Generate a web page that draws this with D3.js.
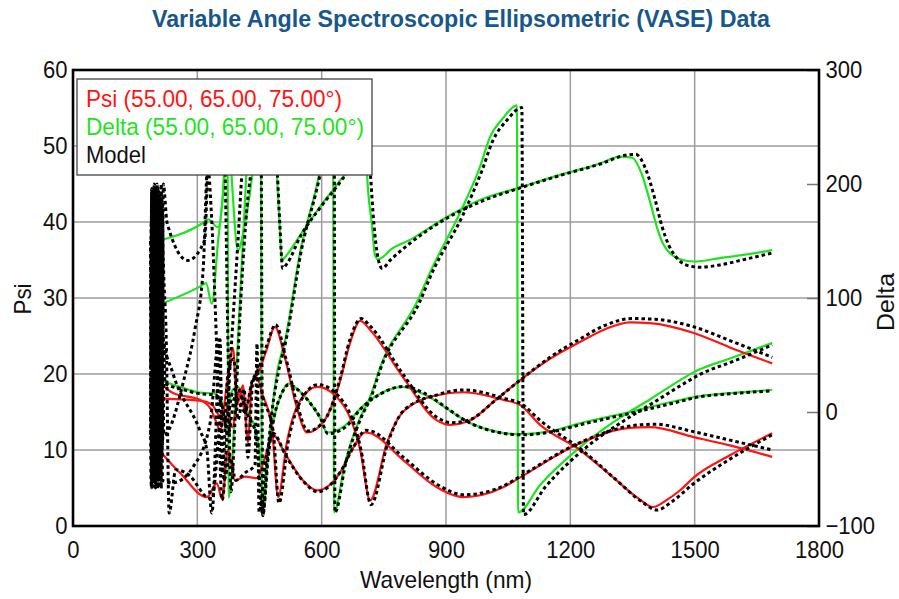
<!DOCTYPE html>
<html><head><meta charset="utf-8">
<script src="https://cdn.jsdelivr.net/npm/d3@7"></script>
<style>body{margin:0;background:#fff}svg text{font-family:"Liberation Sans",Arial,Helvetica,sans-serif}</style>
</head><body><svg id="c" width="899" height="599"></svg>
<script>
const xTicks=[0,300,600,900,1200,1500,1800];
const psiTicks=[0,10,20,30,40,50,60];
const deltaTicks=[-100,0,100,200,300];
const legendLabels=["Psi (55.00, 65.00, 75.00°)","Delta (55.00, 65.00, 75.00°)","Model"];

// Psi data [wavelength nm, psi deg]
const psi55=[[193,16.8],[306,16.5],[335,16],[355,14.5],[369,16],[384,13],[403,18],[415,15],[432,19],[446,20],[466,23],[487,26.2],[512,22],[538,16],[565,12.3],[608,14],[644,19],[668,24],[693,27],[717,25.8],[796,19.6],[878,13.9],[910,13.3],[958,13.9],[1018,16.5],[1079,19.2],[1151,22],[1223,24.2],[1284,25.9],[1344,26.8],[1392,26.7],[1498,25.4],[1585,23.5],[1687,21.4]];
const psi65=[[193,19.9],[241,17.5],[306,16.6],[331,15.5],[347,13.5],[355,12.5],[372,19],[386,23.4],[396,16],[410,18.5],[422,11],[432,19],[444,19.5],[456,17.5],[480,12.9],[495,3.8],[516,11],[548,16.5],[589,18.3],[651,16],[693,10],[717,3.4],[758,11],[796,15],[878,17.2],[941,17.6],[1038,16.6],[1079,15.9],[1127,13.3],[1223,10],[1303,6.4],[1365,3.6],[1400,2.5],[1432,3.4],[1465,4.7],[1498,6.4],[1585,9.3],[1687,12.2]];
const psi75=[[193,10.9],[258,7],[323,3.8],[347,5.6],[360,3.5],[374,10],[391,6],[415,6.5],[444,6.3],[463,9],[483,12],[512,9.5],[555,6],[589,4.7],[644,7],[673,10],[705,12.3],[717,12.2],[796,8.7],[878,5.1],[941,3.8],[1038,5.1],[1079,6.4],[1223,10.9],[1344,12.9],[1392,13],[1498,11.7],[1585,10.6],[1687,9.1]];
// Delta data [wavelength nm, delta deg]
const del55=[[193,149],[314,166],[326,169],[350,162],[367,230],[372,285],[376,-75],[398,63],[417,200],[432,280],[480,282],[492,210],[499,160],[504,133],[512,136],[548,155],[596,180],[644,203],[661,212],[680,245],[693,275],[707,245],[709,212],[721,165],[729,137],[736,134],[748,136],[765,142],[813,151],[902,171],[982,186],[1079,197],[1175,208],[1272,218],[1320,224],[1349,223],[1371,210],[1392,185],[1409,162],[1426,146],[1441,139],[1465,134],[1498,132],[1561,135],[1622,138],[1687,142]];
const del65=[[193,92],[306,110],[321,113],[335,95],[350,150],[367,212],[374,260],[384,199],[398,142],[417,170],[434,212],[449,270],[453,285],[456,-91],[466,-55],[480,0],[492,34],[512,63],[548,140],[596,212],[620,265],[627,285],[630,-88],[656,-45],[693,-5],[717,13],[741,39],[832,98],[861,122],[934,175],[982,215],[1006,241],[1038,258],[1071,269],[1074,-88],[1127,-64],[1223,-31],[1320,-5],[1392,11],[1465,28],[1498,35],[1585,47],[1687,60.5]];
const del75=[[193,30],[258,22],[306,17],[343,16],[360,8],[369,0],[386,20],[398,22],[408,15],[422,0],[442,-18],[456,-60],[458,-88],[468,-40],[485,-5],[502,15],[519,25],[548,18],[572,8],[596,-5],[613,-18],[656,-12],[693,3],[741,16],[796,22],[837,17],[861,13],[886,7],[958,-9.6],[1018,-17],[1079,-19.5],[1151,-17],[1223,-10],[1344,0],[1465,10.5],[1498,13],[1585,16.5],[1687,19.3]];

// Model curves
const mPsi55=[[188,30],[190,44],[192,8],[194,42],[196,6],[198,40],[200,10],[203,45],[206,5],[209,38],[212,12],[215,43],[218,35],[225,24.5],[232,1.7],[248,7.4],[282,6.6],[323,3.8],[335,3.6],[360,15],[374,12],[391,17],[415,15],[432,19],[446,20.5],[466,23.5],[489,26.5],[514,22],[541,16],[567,12.5],[608,14],[644,19.3],[668,24.5],[695,27.3],[717,26.3],[796,20],[878,14.3],[913,13.6],[958,14],[1018,16.5],[1079,19.2],[1151,22.2],[1223,24.6],[1284,26.4],[1349,27.3],[1404,27.2],[1498,26.2],[1585,24.4],[1687,22.2]];
const mPsi65=[[187,12],[189,40],[191,6],[193,44],[195,9],[197,41],[199,5],[202,43],[205,8],[208,39],[211,5],[214,42],[217,25],[241,20.1],[306,12.6],[323,10],[335,1.7],[355,24.5],[360,7],[374,20],[388,22],[398,14],[413,18],[422,9],[434,19],[446,20],[458,17],[483,12.5],[497,3],[519,11],[550,16.5],[591,18.6],[654,16.2],[695,10],[719,2.8],[760,11],[798,15.2],[881,17.3],[943,17.9],[1040,16.8],[1081,16.1],[1129,13.8],[1228,10],[1308,6.2],[1372,3.2],[1409,2.1],[1445,3.2],[1498,5.6],[1585,8.8],[1687,12]];
const mPsi75=[[188,20],[190,5],[192,43],[194,7],[196,45],[198,11],[201,40],[204,6],[207,44],[210,9],[213,37],[216,6],[241,5.7],[290,7.8],[331,13.6],[352,24.5],[364,6],[379,9],[393,6],[415,7],[439,8],[444,24],[449,1.8],[466,9],[483,12.2],[514,9.2],[557,5.8],[591,4.5],[646,7.2],[675,10.2],[707,12.6],[719,12.5],[798,9],[881,5.4],[943,4.1],[1040,5.3],[1081,6.6],[1228,11.1],[1349,13.2],[1404,13.4],[1498,12.4],[1585,11.3],[1687,10]];
const mDel55=[[187,150],[189,-60],[191,195],[193,-50],[195,190],[197,-65],[199,180],[202,-55],[205,198],[208,-62],[211,185],[214,-40],[218,200],[227,166],[277,133],[318,151],[326,212],[335,166],[347,54],[360,-77],[379,40],[398,150],[413,240],[427,282],[471,282],[493,210],[499,165],[506,126],[516,130],[550,155],[598,180],[647,203],[663,212],[683,250],[695,275],[709,250],[717,212],[726,165],[736,135],[746,126],[765,133],[813,148],[902,170],[987,185],[1083,197],[1180,208],[1276,218],[1330,225],[1358,226],[1383,212],[1404,187],[1421,163],[1438,146],[1455,136],[1479,129],[1513,127],[1561,129],[1622,134],[1687,139.5]];
const mDel65=[[188,40],[190,196],[192,-66],[194,185],[196,-58],[198,199],[201,-64],[204,188],[207,-50],[210,192],[213,-67],[216,150],[219,-20],[270,32],[294,72],[314,125],[323,212],[331,260],[338,282],[360,282],[367,212],[374,57],[381,-70],[393,10],[405,100],[420,180],[437,230],[449,270],[453,285],[458,-91],[468,-45],[480,0],[495,34],[514,63],[550,140],[598,212],[623,265],[630,285],[632,-88],[658,-45],[695,-5],[719,13],[743,39],[837,97],[865,121],[941,173],[987,212],[1013,238],[1047,256],[1083,267],[1087,-90],[1139,-66],[1235,-32],[1332,-7],[1404,9],[1479,26],[1513,33],[1597,45],[1687,58.8]];
const mDel75=[[187,30],[189,-66],[191,180],[193,-60],[195,197],[198,-45],[201,193],[204,-67],[207,170],[210,-55],[213,200],[216,-30],[219,60],[222,25],[263,20],[306,16],[343,15],[360,5],[369,-10],[386,18],[398,21],[408,12],[422,-3],[442,-20],[458,-90],[471,-40],[485,-5],[502,15],[521,24],[550,17],[574,7],[598,-6],[615,-19],[658,-13],[695,3],[743,16],[798,22.5],[839,18],[863,13.5],[888,7],[960,-10],[1021,-17.5],[1081,-20],[1153,-17.5],[1226,-11],[1346,-1],[1467,9.5],[1500,12.5],[1588,16],[1687,18.5]];

const RED="#ff1414", GREEN="#1ee41e", TITLE="#17578a";
const X0=73,X1=819,Y0=70,Y1=526;
const svg=d3.select("#c");
const x=d3.scaleLinear().domain([0,1800]).range([X0,X1]);
const yP=d3.scaleLinear().domain([0,60]).range([Y1,Y0]);
const yD=d3.scaleLinear().domain([-100,300]).range([Y1,Y0]);

// title
svg.append("text").attr("x",461).attr("y",27).attr("text-anchor","middle")
  .attr("font-size",23).attr("font-weight","bold").attr("fill",TITLE)
  .attr("textLength",618).attr("lengthAdjust","spacingAndGlyphs")
  .text("Variable Angle Spectroscopic Ellipsometric (VASE) Data");

// grid
const grid=svg.append("g").attr("stroke","#9c9c9c").attr("stroke-width",1.5);
grid.selectAll("line.v").data(xTicks.slice(1,-1)).join("line").attr("class","v")
  .attr("x1",d=>x(d)).attr("x2",d=>x(d)).attr("y1",Y0).attr("y2",Y1);
grid.selectAll("line.h").data(psiTicks.slice(1,-1)).join("line").attr("class","h")
  .attr("x1",X0).attr("x2",X1).attr("y1",d=>yP(d)).attr("y2",d=>yP(d));

svg.append("defs").append("clipPath").attr("id","clip").append("rect")
  .attr("x",X0).attr("y",Y0).attr("width",X1-X0).attr("height",Y1-Y0);
const gL=svg.append("g").attr("clip-path","url(#clip)");
const lineP=d3.line().x(d=>x(d[0])).y(d=>yP(d[1])).curve(d3.curveMonotoneX);
const lineD=d3.line().x(d=>x(d[0])).y(d=>yD(d[1])).curve(d3.curveMonotoneX);

[del55,del65,del75].forEach(s=>gL.append("path").attr("d",lineD(s)).attr("fill","none").attr("stroke",GREEN).attr("stroke-width",2.2));
[psi55,psi65,psi75].forEach(s=>gL.append("path").attr("d",lineP(s)).attr("fill","none").attr("stroke",RED).attr("stroke-width",2.2));
[mDel55,mDel65,mDel75].forEach(s=>gL.append("path").attr("d",lineD(s)).attr("fill","none").attr("stroke","#000").attr("stroke-width",3).attr("stroke-dasharray","3.5,3"));
[mPsi55,mPsi65,mPsi75].forEach(s=>gL.append("path").attr("d",lineP(s)).attr("fill","none").attr("stroke","#000").attr("stroke-width",3).attr("stroke-dasharray","3.5,3"));

// axes
const fmt=d3.format("d");
function styleAxis(g){
  g.attr("font-size",24).attr("font-family",'"Liberation Sans",Arial,sans-serif');
  g.select(".domain").remove();
  g.selectAll("text").attr("fill","#111").attr("transform","scale(0.92,1)");
}
svg.append("g").attr("transform",`translate(0,${Y1})`)
  .call(d3.axisBottom(x).tickValues(xTicks).tickFormat(fmt).tickSize(0).tickPadding(15)).call(styleAxis);
svg.append("g").attr("transform",`translate(${X0},0)`)
  .call(d3.axisLeft(yP).tickValues(psiTicks).tickFormat(fmt).tickSize(0).tickPadding(6)).call(styleAxis);
const ra=svg.append("g").attr("transform",`translate(${X1},0)`)
  .call(d3.axisRight(yD).tickValues(deltaTicks).tickFormat(fmt).tickSizeInner(-12).tickSizeOuter(0).tickPadding(7)).call(styleAxis);
ra.selectAll(".tick line").attr("stroke","#777").attr("stroke-width",1.5);

// frame
svg.append("rect").attr("x",X0).attr("y",Y0).attr("width",X1-X0).attr("height",Y1-Y0)
  .attr("fill","none").attr("stroke","#000").attr("stroke-width",2.6);

// axis titles
svg.append("text").attr("x",446).attr("y",588).attr("text-anchor","middle").attr("font-size",24)
  .attr("fill","#111").attr("textLength",172).attr("lengthAdjust","spacingAndGlyphs").text("Wavelength (nm)");
svg.append("text").attr("transform","translate(31,299) rotate(-90)").attr("text-anchor","middle").attr("font-size",24)
  .attr("fill","#111").attr("textLength",31).attr("lengthAdjust","spacingAndGlyphs").text("Psi");
svg.append("text").attr("transform","translate(894,302) rotate(-90)").attr("text-anchor","middle").attr("font-size",23)
  .attr("fill","#111").attr("textLength",58).attr("lengthAdjust","spacingAndGlyphs").text("Delta");

// legend
const lg=svg.append("g");
lg.append("rect").attr("x",77).attr("y",79).attr("width",295).attr("height",96)
  .attr("fill","#fff").attr("stroke","#444").attr("stroke-width",1.3);
const lgColors=[RED,GREEN,"#111"], lgLens=[256,278,60], lgY=[107,135,163];
lg.selectAll("text").data(legendLabels).join("text")
  .attr("x",86).attr("y",(d,i)=>lgY[i]).attr("font-size",24).attr("fill",(d,i)=>lgColors[i])
  .attr("textLength",(d,i)=>lgLens[i]).attr("lengthAdjust","spacingAndGlyphs").text(d=>d);
</script></body></html>
